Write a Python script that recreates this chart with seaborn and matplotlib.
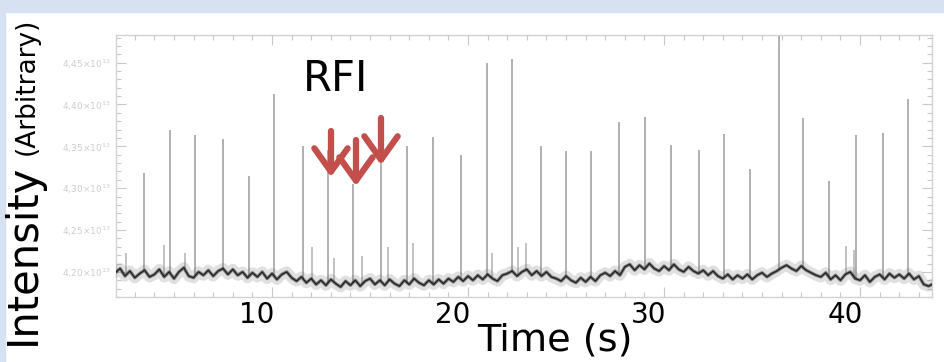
import numpy as np
import pandas as pd
import matplotlib
matplotlib.use("Agg")
import matplotlib.pyplot as plt
import seaborn as sns
from matplotlib.ticker import MultipleLocator, FixedLocator, FuncFormatter
from matplotlib.patches import Rectangle, FancyArrowPatch
import matplotlib.transforms as mtransforms

# ---------------- data ----------------
base_start = 2.0
base_step = 0.25
base_values = [
    4.199, 4.204, 4.195, 4.201, 4.193, 4.198, 4.202, 4.194,
    4.197, 4.203, 4.194, 4.200, 4.192, 4.200, 4.205, 4.195,
    4.193, 4.200, 4.196, 4.202, 4.195, 4.201, 4.204, 4.197,
    4.203, 4.196, 4.200, 4.193, 4.199, 4.194, 4.200, 4.192,
    4.198, 4.191, 4.197, 4.200, 4.193, 4.189, 4.194, 4.187,
    4.192, 4.185, 4.190, 4.184, 4.191, 4.186, 4.182, 4.189,
    4.184, 4.190, 4.183, 4.189, 4.192, 4.185, 4.190, 4.184,
    4.191, 4.186, 4.183, 4.190, 4.185, 4.192, 4.187, 4.184,
    4.190, 4.185, 4.191, 4.186, 4.192, 4.188, 4.194, 4.189,
    4.195, 4.190, 4.196, 4.191, 4.197, 4.192, 4.189, 4.196,
    4.198, 4.201, 4.195, 4.200, 4.203, 4.196, 4.201, 4.195,
    4.200, 4.194, 4.192, 4.189, 4.195, 4.190, 4.187, 4.193,
    4.188, 4.194, 4.189, 4.196, 4.199, 4.195, 4.201, 4.196,
    4.206, 4.209, 4.202, 4.208, 4.203, 4.210, 4.204, 4.201,
    4.207, 4.202, 4.209, 4.203, 4.200, 4.206, 4.201, 4.198,
    4.202, 4.196, 4.201, 4.195, 4.192, 4.197, 4.191, 4.196,
    4.192, 4.197, 4.191, 4.196, 4.199, 4.194, 4.198, 4.201,
    4.205, 4.208, 4.204, 4.201, 4.207, 4.202, 4.199, 4.196,
    4.194, 4.199, 4.191, 4.196, 4.190, 4.197, 4.200, 4.192,
    4.190, 4.196, 4.188, 4.194, 4.197, 4.191, 4.198, 4.193,
    4.197, 4.192, 4.198, 4.191, 4.195, 4.185, 4.183, 4.186,
]

spike_times = [3.47, 4.80, 6.07, 7.50, 8.83, 10.10, 11.58, 12.86, 14.13, 15.56,
               16.89, 18.21, 19.64, 20.97, 22.24, 23.72, 25.00, 26.28, 27.70, 29.03,
               30.36, 31.79, 33.06, 34.39, 35.87, 37.09, 38.42, 39.80, 41.17, 42.45]
spike_tops = [4.318, 4.370, 4.363, 4.359, 4.314, 4.413, 4.350, 4.346, 4.305, 4.330,
              4.350, 4.361, 4.340, 4.450, 4.454, 4.350, 4.345, 4.344, 4.379, 4.385,
              4.352, 4.346, 4.365, 4.323, 4.500, 4.384, 4.308, 4.363, 4.366, 4.407]

small_times = [2.55, 4.49, 5.55, 12.04, 13.16, 14.59, 15.92, 17.19, 21.22, 22.55, 22.96, 39.29, 39.69]
small_tops = [4.223, 4.232, 4.222, 4.230, 4.217, 4.219, 4.230, 4.235, 4.223, 4.230, 4.235, 4.231, 4.226]

x_ticks = [10, 20, 30, 40]
x_tick_labels = ["10", "20", "30", "40"]
y_ticks = [4.20, 4.25, 4.30, 4.35, 4.40, 4.45]

# ---------------- figure ----------------
sns.set_theme(style="white")
plt.rcParams["font.family"] = ["DejaVu Sans"]

W, H = 945, 362
fig = plt.figure(figsize=(W / 100, H / 100), dpi=100)
fig.patch.set_facecolor("white")

def fx(px):
    return px / W

def fy(py):
    return 1 - py / H

# slide background bands
fig.patches.append(Rectangle((0, fy(12)), 1, 12 / H, transform=fig.transFigure,
                             color="#d6e2f1", zorder=-5))
fig.patches.append(Rectangle((0, 0), fx(5), 1, transform=fig.transFigure,
                             color="#d6e2f1", zorder=-5))

ax = fig.add_axes([fx(116), fy(297), fx(932) - fx(116), fy(35) - fy(297)])
ax.set_facecolor("white")

base_times = base_start + base_step * np.arange(len(base_values))
df = pd.DataFrame({"time": base_times, "intensity": base_values})

# spikes
sp_bottom = np.interp(spike_times, base_times, base_values)
ax.vlines(spike_times, sp_bottom, spike_tops, color="#b0b0b0", lw=1.4, zorder=2)
sm_bottom = np.interp(small_times, base_times, base_values)
ax.vlines(small_times, sm_bottom, small_tops, color="#b8b8b8", lw=1.2, zorder=2)

# baseline (fuzzy band + core)
sns.lineplot(data=df, x="time", y="intensity", ax=ax, color="#666666",
             lw=8.0, alpha=0.2, zorder=3)
sns.lineplot(data=df, x="time", y="intensity", ax=ax, color="#3a3a3a",
             lw=2.4, alpha=0.6, zorder=3)
sns.lineplot(data=df, x="time", y="intensity", ax=ax, color="#1e1e1e",
             lw=0.9, zorder=4)

ax.set_xlim(2.04, 43.67)
ax.set_ylim(4.17, 4.483)
ax.set_xlabel("")
ax.set_ylabel("")

ax.xaxis.set_major_locator(FixedLocator(x_ticks))
ax.set_xticklabels(x_tick_labels)
ax.xaxis.set_minor_locator(MultipleLocator(1))
ax.yaxis.set_major_locator(FixedLocator(y_ticks))
ax.yaxis.set_minor_locator(MultipleLocator(0.01))
ax.yaxis.set_major_formatter(FuncFormatter(lambda v, p: f"{v:.2f}×10$^{{13}}$".replace(".", ",")))

ax.tick_params(which="both", direction="in", top=True, right=True,
               bottom=True, left=True, color="#c8c8c8", width=0.8)
ax.tick_params(which="major", length=7)
ax.tick_params(which="minor", length=3.5)
ax.tick_params(axis="x", labelsize=20, labelcolor="black", pad=3)
ax.tick_params(axis="y", labelsize=6.5, labelcolor="#cdcdcd", pad=4)

for sp in ax.spines.values():
    sp.set_color("#d2d2d2")
    sp.set_linewidth(1.0)

shift = mtransforms.ScaledTranslation(-15 / 100, 0, fig.dpi_scale_trans)
for lbl in ax.get_xticklabels():
    lbl.set_transform(lbl.get_transform() + shift)

# texts
fig.text(fx(555), fy(350), "Time (s)", fontsize=27.5, ha="center", va="baseline",
         color="black")
fig.text(fx(23), fy(254), "Intensity", fontsize=30, rotation=90, ha="center",
         va="center", color="black")
fig.text(fx(27), fy(86), "(Arbitrary)", fontsize=19, rotation=90, ha="center",
         va="center", color="black")
fig.text(fx(336), fy(79), "RFI", fontsize=30, ha="center", va="center", color="black")

# red arrows
arrows = [((331, 131), (331, 177)), ((356, 140), (356, 186)), ((381, 118), (381, 165))]
for (x0, y0), (x1, y1) in arrows:
    arr = FancyArrowPatch((fx(x0), fy(y0)), (fx(x1), fy(y1)), transform=fig.transFigure,
                          arrowstyle="->,head_length=0.42,head_width=0.3",
                          mutation_scale=40, color="#c24f4c", lw=4.5,
                          capstyle="round", joinstyle="round",
                          shrinkA=0, shrinkB=0, zorder=10)
    fig.patches.append(arr)

fig.savefig("out.png", dpi=100)
